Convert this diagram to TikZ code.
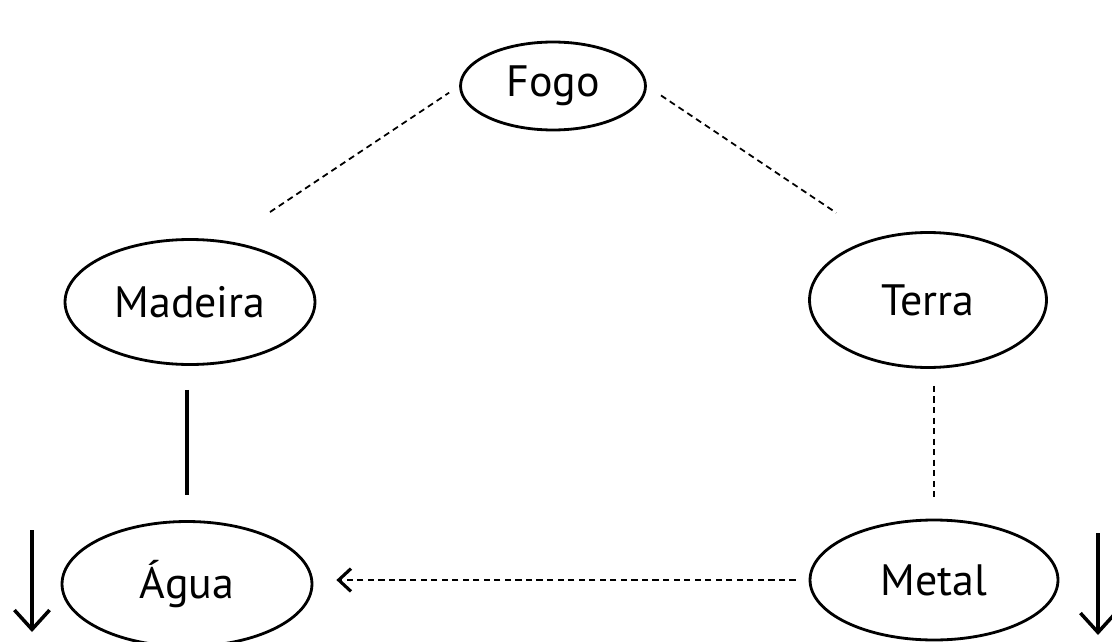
\documentclass[tikz,border=0pt]{standalone}
\usepackage{fontspec}
\setmainfont{PT Sans}
\usetikzlibrary{shapes.geometric,arrows.meta}

\begin{document}
\begin{tikzpicture}[x=0.02cm, y=-0.02cm,
        element/.style={ellipse, draw, line width=1.6pt, inner sep=0pt,
            font=\fontsize{25}{30}\selectfont},
        dashline/.style={line width=1pt, dash pattern=on 3.5pt off 2.5pt},
        solidline/.style={line width=2.2pt},
        fall/.style={line width=2pt, -{Straight Barb[length=11pt, width=20pt, line width=2pt]}}]
        \useasboundingbox (0,0) rectangle (1112,642);

        % Nodes (the five elements)
        \node[element, minimum width=3.7cm, minimum height=1.76cm] (fogo) at (553,86) {Fogo};
        \node[element, minimum width=5cm, minimum height=2.5cm] (madeira) at (190,302) {Madeira};
        \node[element, minimum width=4.74cm, minimum height=2.7cm] (terra) at (928,300) {Terra};
        \node[element, minimum width=5cm, minimum height=2.5cm] (agua) at (187,584) {Água};
        \node[element, minimum width=4.96cm, minimum height=2.4cm] (metal) at (934,580) {Metal};

        % Edges (links between the elements)
        \draw[dashline, shorten <=1.04cm, shorten >=0.24cm] (madeira.59) -- (fogo.west);
        \draw[dashline, shorten <=0.34cm, shorten >=0.92cm] (fogo.east) -- (terra.131);
        \draw[solidline, shorten <=0.48cm, shorten >=0.5cm] (madeira.south -| agua.north) -- (agua.north);
        \draw[dashline, shorten <=0.34cm, shorten >=0.44cm] (terra.south -| metal.north) -- (metal.north);
        \draw[dashline, shorten <=0.26cm, shorten >=0.46cm,
            -{Straight Barb[length=7pt, width=13pt, line width=1.8pt]}] (metal.west) -- (metal.west -| agua.east);

        % Arrows (falling beside water and metal)
        \coordinate (lefttop) at (32,530);
        \coordinate (leftbot) at (32,632);
        \coordinate (righttop) at (1098,533);
        \coordinate (rightbot) at (1098,635);
        \draw[fall] (lefttop) -- (leftbot);
        \draw[fall] (righttop) -- (rightbot);
    \end{tikzpicture}
\end{document}
